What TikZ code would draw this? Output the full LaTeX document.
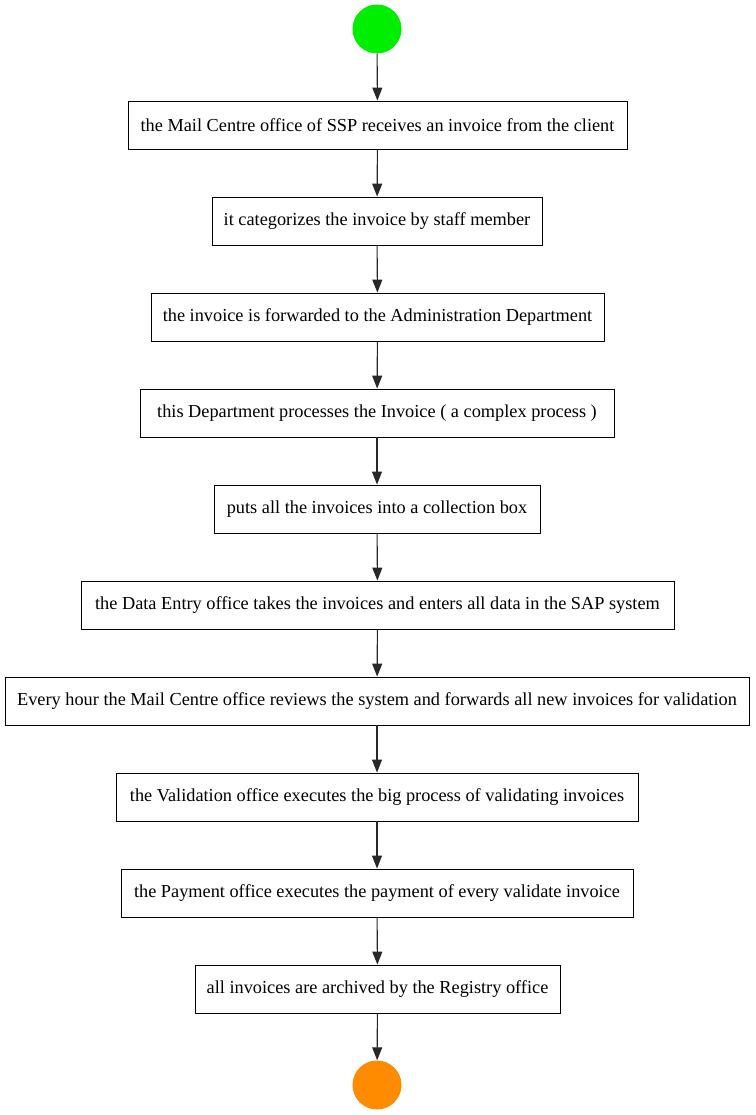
\documentclass[tikz,border=0pt]{standalone}
\usepackage{fontspec}
\setmainfont{Liberation Serif}
\usetikzlibrary{arrows.meta}
\begin{document}
\begin{tikzpicture}[x=1pt,y=-1pt,
  stepbox/.style={draw=black,line width=0.9pt,fill=white,minimum height=48pt,inner xsep=0pt,font=\fontsize{18.3}{20}\selectfont},
  flow/.style={draw={rgb,255:red,40;green,40;blue,40},line width=1.1pt,-{Triangle[length=13pt,width=10pt]}},
  startdot/.style={circle,fill={rgb,255:red,0;green,238;blue,0},minimum size=49pt,inner sep=0pt},
  enddot/.style={circle,fill={rgb,255:red,255;green,140;blue,0},minimum size=49pt,inner sep=0pt}]
\useasboundingbox (0,0) rectangle (755,1115);
\node[startdot] (s) at (377,29) {};
\node[stepbox,minimum width=499pt] (b1) at (377.5,125) {the Mail Centre office of SSP receives an invoice from the client};
\node[stepbox,minimum width=330pt] (b2) at (377,221) {it categorizes the invoice by staff member};
\node[stepbox,minimum width=453pt] (b3) at (377.5,317) {the invoice is forwarded to the Administration Department};
\node[stepbox,minimum width=474pt] (b4) at (377,413) {this Department processes the Invoice ( a complex process )};
\node[stepbox,minimum width=326pt] (b5) at (377,509) {puts all the invoices into a collection box};
\node[stepbox,minimum width=593pt] (b6) at (377.5,605) {the Data Entry office takes the invoices and enters all data in the SAP system};
\node[stepbox,minimum width=744pt] (b7) at (377,701) {Every hour the Mail Centre office reviews the system and forwards all new invoices for validation};
\node[stepbox,minimum width=522pt] (b8) at (377,797) {the Validation office executes the big process of validating invoices};
\node[stepbox,minimum width=512pt] (b9) at (377,893) {the Payment office executes the payment of every validate invoice};
\node[stepbox,minimum width=365pt] (b10) at (377.5,989) {all invoices are archived by the Registry office};
\node[enddot] (e) at (377,1085) {};
\draw[flow] (s) -- (b1);
\draw[flow] (b1) -- (b2);
\draw[flow] (b2) -- (b3);
\draw[flow] (b3) -- (b4);
\draw[flow] (b4) -- (b5);
\draw[flow] (b5) -- (b6);
\draw[flow] (b6) -- (b7);
\draw[flow] (b7) -- (b8);
\draw[flow] (b8) -- (b9);
\draw[flow] (b9) -- (b10);
\draw[flow] (b10) -- (e);
\end{tikzpicture}
\end{document}
